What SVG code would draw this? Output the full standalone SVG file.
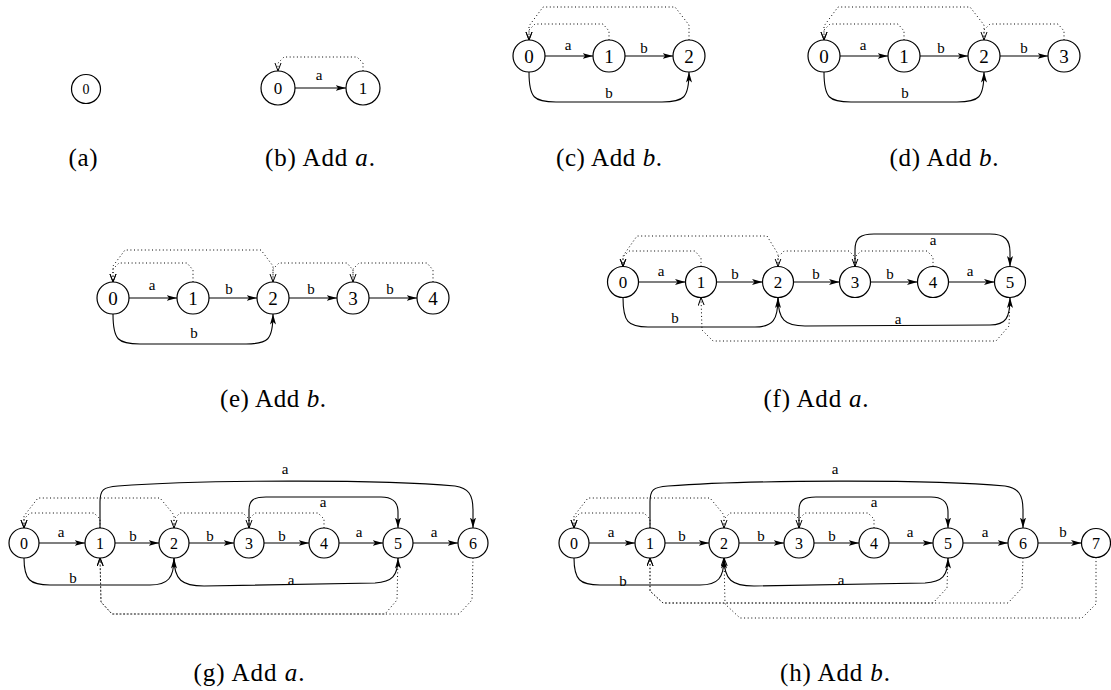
<svg xmlns="http://www.w3.org/2000/svg" width="1111" height="690" viewBox="0 0 1111 690">
<style>
.n{fill:#fff;stroke:#000;stroke-width:1.2}
.nl{font-family:"Liberation Serif",serif;text-anchor:middle;fill:#000}
.el{font-family:"Liberation Serif",serif;font-size:15px;text-anchor:middle;fill:#000}
.e{fill:none;stroke:#000;stroke-width:1.1;marker-end:url(#ah)}
.f{fill:none;stroke:#000;stroke-width:1;stroke-dasharray:1 2.6;marker-end:url(#av)}
.cap{font-family:"Liberation Serif",serif;font-size:25px;text-anchor:middle;fill:#000}
.it{font-style:italic}
</style>
<defs>
<marker id="ah" markerUnits="userSpaceOnUse" markerWidth="11" markerHeight="7" refX="10.5" refY="3" orient="auto"><path d="M0,0 L10.5,3 L0,6 L2.5,3 Z" fill="#000"/></marker>
<marker id="av" markerUnits="userSpaceOnUse" markerWidth="10" markerHeight="8" refX="8" refY="3.5" orient="auto"><path d="M0,0.5 L8,3.5 L0,6.5" fill="none" stroke="#000" stroke-width="1"/></marker>
</defs>
<rect width="1111" height="690" fill="#fff"/>

<!-- (a) -->
<g id="a-n0"><circle class="n" cx="86" cy="89" r="14.5"/><text class="nl" x="86" y="94" font-size="14">0</text></g>
<text class="cap" x="83" y="166" textLength="29" lengthAdjust="spacing">(a)</text>

<!-- (b) -->
<g id="b-edges">
<path class="e" d="M295,88 L346,88"/>
<path class="f" d="M363,71 L363,63 L357,57 L284,57 L278,63 L278,71"/>
<text class="el" x="319" y="80">a</text>
</g>
<g id="b-n0"><circle class="n" cx="278" cy="88" r="17"/><text class="nl" x="278" y="94" font-size="17">0</text></g>
<g id="b-n1"><circle class="n" cx="363" cy="88" r="17"/><text class="nl" x="363" y="94" font-size="17">1</text></g>
<text class="cap" x="320" y="166" textLength="110" lengthAdjust="spacing">(b) Add <tspan class="it">a</tspan>.</text>

<!-- (c) -->
<g id="c-edges">
<path class="e" d="M545,56 L593,56"/>
<path class="e" d="M625,56 L673,56"/>
<path class="e" d="M529,72 C529,98 534,102 556,102 L662,102 C684,102 689,98 689,72"/>
<path class="f" d="M609,40 L609,31 L603,24 L535,24 L529,30 L529,40"/>
<path class="f" d="M689,40 L689,25 L675,7 L543,7 L529,26 L529,40"/>
<text class="el" x="568" y="50">a</text>
<text class="el" x="644" y="53">b</text>
<text class="el" x="609" y="98">b</text>
</g>
<g id="c-n0"><circle class="n" cx="529" cy="56" r="16"/><text class="nl" x="529" y="63" font-size="19">0</text></g>
<g id="c-n1"><circle class="n" cx="609" cy="56" r="16"/><text class="nl" x="609" y="63" font-size="19">1</text></g>
<g id="c-n2"><circle class="n" cx="689" cy="56" r="16"/><text class="nl" x="689" y="63" font-size="19">2</text></g>
<text class="cap" x="609" y="166" textLength="106" lengthAdjust="spacing">(c) Add <tspan class="it">b</tspan>.</text>

<!-- (d) -->
<g id="d-edges">
<path class="e" d="M840,56 L888,56"/>
<path class="e" d="M920,56 L968,56"/>
<path class="e" d="M1000,56 L1048,56"/>
<path class="e" d="M824,72 C824,98 829,102 851,102 L957,102 C979,102 984,98 984,72"/>
<path class="f" d="M904,40 L904,31 L898,24 L830,24 L824,30 L824,40"/>
<path class="f" d="M984,40 L984,25 L970,7 L838,7 L824,26 L824,40"/>
<path class="f" d="M1064,40 L1064,31 L1058,24 L990,24 L984,30 L984,40"/>
<text class="el" x="863" y="50">a</text>
<text class="el" x="941" y="53">b</text>
<text class="el" x="1024" y="53">b</text>
<text class="el" x="905" y="98">b</text>
</g>
<g id="d-n0"><circle class="n" cx="824" cy="56" r="16"/><text class="nl" x="824" y="63" font-size="19">0</text></g>
<g id="d-n1"><circle class="n" cx="904" cy="56" r="16"/><text class="nl" x="904" y="63" font-size="19">1</text></g>
<g id="d-n2"><circle class="n" cx="984" cy="56" r="16"/><text class="nl" x="984" y="63" font-size="19">2</text></g>
<g id="d-n3"><circle class="n" cx="1064" cy="56" r="16"/><text class="nl" x="1064" y="63" font-size="19">3</text></g>
<text class="cap" x="944" y="166" textLength="109" lengthAdjust="spacing">(d) Add <tspan class="it">b</tspan>.</text>

<!-- (e) -->
<g id="e-edges">
<path class="e" d="M129,298 L177,298"/>
<path class="e" d="M209,298 L257,298"/>
<path class="e" d="M289,298 L337,298"/>
<path class="e" d="M369,298 L417,298"/>
<path class="e" d="M113,314 C113,340 118,344 140,344 L246,344 C268,344 273,340 273,314"/>
<path class="f" d="M193,282 L193,270 L187,263 L119,263 L113,269 L113,282"/>
<path class="f" d="M273,282 L273,266 L261,250 L125,250 L113,266 L113,282"/>
<path class="f" d="M353,282 L353,270 L347,263 L279,263 L273,269 L273,282"/>
<path class="f" d="M433,282 L433,270 L427,263 L359,263 L353,269 L353,282"/>
<text class="el" x="152" y="290">a</text>
<text class="el" x="229" y="294">b</text>
<text class="el" x="311" y="294">b</text>
<text class="el" x="390" y="294">b</text>
<text class="el" x="194" y="338">b</text>
</g>
<g id="e-n0"><circle class="n" cx="113" cy="298" r="16"/><text class="nl" x="113" y="305" font-size="19">0</text></g>
<g id="e-n1"><circle class="n" cx="193" cy="298" r="16"/><text class="nl" x="193" y="305" font-size="19">1</text></g>
<g id="e-n2"><circle class="n" cx="273" cy="298" r="16"/><text class="nl" x="273" y="305" font-size="19">2</text></g>
<g id="e-n3"><circle class="n" cx="353" cy="298" r="16"/><text class="nl" x="353" y="305" font-size="19">3</text></g>
<g id="e-n4"><circle class="n" cx="433" cy="298" r="16"/><text class="nl" x="433" y="305" font-size="19">4</text></g>
<text class="cap" x="273" y="407" textLength="106" lengthAdjust="spacing">(e) Add <tspan class="it">b</tspan>.</text>

<!-- (f) -->
<g id="f-edges">
<path class="e" d="M638.5,282 L685.5,282"/>
<path class="e" d="M716.5,282 L762.5,282"/>
<path class="e" d="M793.5,282 L839.5,282"/>
<path class="e" d="M870.5,282 L917.5,282"/>
<path class="e" d="M948.5,282 L994.5,282"/>
<path class="e" d="M855,266.5 L855,250 C855,238 860,234 874,234 L990,234 C1005,234 1010,240 1010,252 L1010,266.5"/>
<path class="e" d="M623,297.5 C623,322 628,327 648,327 L755,327 C773,327 778,320 778,297.5"/>
<path class="e" d="M778,297.5 C778,320 785,326 805,326 L990,325 C1006,325 1010,318 1010,297.5"/>
<path class="f" d="M701,266.5 L701,258 L695,251 L629,251 L623,257 L623,266.5"/>
<path class="f" d="M778,266.5 L778,254 L767,236 L637,236 L623,256 L623,266.5"/>
<path class="f" d="M855,266.5 L855,257 L849,251 L784,251 L778,257 L778,266.5"/>
<path class="f" d="M933,266.5 L933,257 L927,251 L861,251 L855,257 L855,266.5"/>
<path class="f" d="M1010,297.5 L1009,326 L996,341 L713,341 L702,330 L701,297.5"/>
<text class="el" x="661" y="276">a</text>
<text class="el" x="735" y="279">b</text>
<text class="el" x="816" y="279">b</text>
<text class="el" x="890" y="279">b</text>
<text class="el" x="970" y="276">a</text>
<text class="el" x="933" y="245">a</text>
<text class="el" x="675" y="323">b</text>
<text class="el" x="898" y="324">a</text>
</g>
<g id="f-n0"><circle class="n" cx="623" cy="282" r="15.5"/><text class="nl" x="623" y="288" font-size="17">0</text></g>
<g id="f-n1"><circle class="n" cx="701" cy="282" r="15.5"/><text class="nl" x="701" y="288" font-size="17">1</text></g>
<g id="f-n2"><circle class="n" cx="778" cy="282" r="15.5"/><text class="nl" x="778" y="288" font-size="17">2</text></g>
<g id="f-n3"><circle class="n" cx="855" cy="282" r="15.5"/><text class="nl" x="855" y="288" font-size="17">3</text></g>
<g id="f-n4"><circle class="n" cx="933" cy="282" r="15.5"/><text class="nl" x="933" y="288" font-size="17">4</text></g>
<g id="f-n5"><circle class="n" cx="1010" cy="282" r="15.5"/><text class="nl" x="1010" y="288" font-size="17">5</text></g>
<text class="cap" x="816" y="407" textLength="105" lengthAdjust="spacing">(f) Add <tspan class="it">a</tspan>.</text>

<!-- (g) -->
<g id="g-edges">
<path class="e" d="M39,543 L85,543"/>
<path class="e" d="M115,543 L159,543"/>
<path class="e" d="M189,543 L234,543"/>
<path class="e" d="M264,543 L309,543"/>
<path class="e" d="M339,543 L383,543"/>
<path class="e" d="M413,543 L458,543"/>
<path class="e" d="M100,528 L100,502 C100,490 103,487 118,486 C200,480 380,479 455,486 C468,488 473,494 473,510 L473,528"/>
<path class="e" d="M249,528 L249,510 C249,500 254,497 266,497 L381,497 C394,497 398,503 398,512 L398,528"/>
<path class="e" d="M24,558 C24,580 30,585 50,585 L150,585 C168,585 174,578 174,558"/>
<path class="e" d="M174,558 C174,580 182,586 204,586 L375,583 C392,582 398,576 398,558"/>
<path class="f" d="M100,528 L100,519 L94,513 L30,513 L24,519 L24,528"/>
<path class="f" d="M174,528 L174,515 L160,498 L38,498 L24,516 L24,528"/>
<path class="f" d="M249,528 L249,519 L243,513 L180,513 L174,519 L174,528"/>
<path class="f" d="M324,528 L324,519 L318,513 L255,513 L249,519 L249,528"/>
<path class="f" d="M398,558 L397,600 L385,614 L112,614 L101,602 L100,558"/>
<path class="f" d="M473,558 L472,600 L459,614 L112,614 L101,602 L100,558"/>
<text class="el" x="61" y="537">a</text>
<text class="el" x="133" y="541">b</text>
<text class="el" x="210" y="541">b</text>
<text class="el" x="282" y="541">b</text>
<text class="el" x="359" y="537">a</text>
<text class="el" x="434" y="537">a</text>
<text class="el" x="285" y="474">a</text>
<text class="el" x="323" y="507">a</text>
<text class="el" x="73" y="583">b</text>
<text class="el" x="291" y="585">a</text>
</g>
<g id="g-n0"><circle class="n" cx="24" cy="543" r="15"/><text class="nl" x="24" y="549" font-size="16">0</text></g>
<g id="g-n1"><circle class="n" cx="100" cy="543" r="15"/><text class="nl" x="100" y="549" font-size="16">1</text></g>
<g id="g-n2"><circle class="n" cx="174" cy="543" r="15"/><text class="nl" x="174" y="549" font-size="16">2</text></g>
<g id="g-n3"><circle class="n" cx="249" cy="543" r="15"/><text class="nl" x="249" y="549" font-size="16">3</text></g>
<g id="g-n4"><circle class="n" cx="324" cy="543" r="15"/><text class="nl" x="324" y="549" font-size="16">4</text></g>
<g id="g-n5"><circle class="n" cx="398" cy="543" r="15"/><text class="nl" x="398" y="549" font-size="16">5</text></g>
<g id="g-n6"><circle class="n" cx="473" cy="543" r="15"/><text class="nl" x="473" y="549" font-size="16">6</text></g>
<text class="cap" x="249" y="681" textLength="111" lengthAdjust="spacing">(g) Add <tspan class="it">a</tspan>.</text>

<!-- (h) -->
<g id="h-edges">
<path class="e" d="M589,543 L635,543"/>
<path class="e" d="M665,543 L709,543"/>
<path class="e" d="M739,543 L784,543"/>
<path class="e" d="M814,543 L859,543"/>
<path class="e" d="M889,543 L933,543"/>
<path class="e" d="M963,543 L1008,543"/>
<path class="e" d="M1038,543 L1081.5,543"/>
<path class="e" d="M650,528 L650,502 C650,490 653,487 668,486 C750,480 930,479 1005,486 C1018,488 1023,494 1023,510 L1023,528"/>
<path class="e" d="M799,528 L799,510 C799,500 804,497 816,497 L931,497 C944,497 948,503 948,512 L948,528"/>
<path class="e" d="M574,558 C574,580 580,585 600,585 L700,585 C718,585 724,578 724,558"/>
<path class="e" d="M724,558 C724,580 732,586 754,586 L925,583 C942,582 948,576 948,558"/>
<path class="f" d="M650,528 L650,519 L644,513 L580,513 L574,519 L574,528"/>
<path class="f" d="M724,528 L724,515 L710,498 L588,498 L574,516 L574,528"/>
<path class="f" d="M799,528 L799,519 L793,513 L730,513 L724,519 L724,528"/>
<path class="f" d="M874,528 L874,519 L868,513 L805,513 L799,519 L799,528"/>
<path class="f" d="M948,558 L947,588 L933,603 L663,603 L650,591 L650,558"/>
<path class="f" d="M1023,558 L1022,588 L1008,603 L663,603 L650,591 L650,558"/>
<path class="f" d="M1096,557.5 L1096,604 L1082,618 L740,618 L725,604 L724,558"/>
<text class="el" x="611" y="537">a</text>
<text class="el" x="682" y="541">b</text>
<text class="el" x="761" y="541">b</text>
<text class="el" x="832" y="541">b</text>
<text class="el" x="910" y="537">a</text>
<text class="el" x="985" y="537">a</text>
<text class="el" x="1063" y="537">b</text>
<text class="el" x="835" y="474">a</text>
<text class="el" x="874" y="507">a</text>
<text class="el" x="623" y="586">b</text>
<text class="el" x="841" y="585">a</text>
</g>
<g id="h-n0"><circle class="n" cx="574" cy="543" r="15"/><text class="nl" x="574" y="549" font-size="16">0</text></g>
<g id="h-n1"><circle class="n" cx="650" cy="543" r="15"/><text class="nl" x="650" y="549" font-size="16">1</text></g>
<g id="h-n2"><circle class="n" cx="724" cy="543" r="15"/><text class="nl" x="724" y="549" font-size="16">2</text></g>
<g id="h-n3"><circle class="n" cx="799" cy="543" r="15"/><text class="nl" x="799" y="549" font-size="16">3</text></g>
<g id="h-n4"><circle class="n" cx="874" cy="543" r="15"/><text class="nl" x="874" y="549" font-size="16">4</text></g>
<g id="h-n5"><circle class="n" cx="948" cy="543" r="15"/><text class="nl" x="948" y="549" font-size="16">5</text></g>
<g id="h-n6"><circle class="n" cx="1023" cy="543" r="15"/><text class="nl" x="1023" y="549" font-size="16">6</text></g>
<g id="h-n7"><circle class="n" cx="1096" cy="543" r="14.5"/><text class="nl" x="1096" y="549" font-size="16">7</text></g>
<text class="cap" x="835" y="681" textLength="110" lengthAdjust="spacing">(h) Add <tspan class="it">b</tspan>.</text>
</svg>
